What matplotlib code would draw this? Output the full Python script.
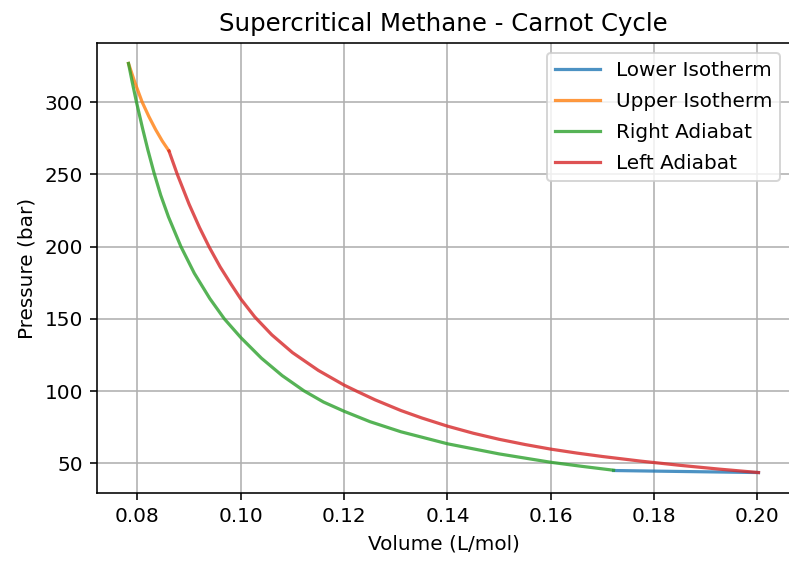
import matplotlib
matplotlib.use("Agg")
import matplotlib.pyplot as plt

# Lower isotherm
lower_v = [0.17215, 0.1860, 0.2002]
lower_p = [45.0, 44.3, 43.6]

# Upper isotherm
upper_v = [0.07826, 0.0795, 0.0809, 0.0822, 0.0835, 0.0848, 0.0861]
upper_p = [326.7, 313.5, 300.0, 290.0, 281.0, 273.0, 266.1]

# Right adiabat
right_v = [0.07826, 0.0790, 0.0798, 0.0810, 0.0820, 0.0832, 0.0845, 0.0860,
           0.0884, 0.0910, 0.0940, 0.0968, 0.1000, 0.1040, 0.1080, 0.1122,
           0.1160, 0.1200, 0.1250, 0.1310, 0.1400, 0.1500, 0.1600, 0.1660,
           0.17215]
right_p = [326.7, 313.5, 300.0, 281.5, 267.0, 251.0, 235.5, 220.5,
           200.0, 181.5, 164.0, 150.0, 137.0, 122.7, 110.7, 100.2,
           92.4, 86.0, 78.8, 71.8, 63.5, 56.5, 50.7, 47.9,
           45.2]

# Left adiabat
left_v = [0.0861, 0.0877, 0.0900, 0.0920, 0.0939, 0.0960, 0.0981, 0.1000,
          0.1027, 0.1060, 0.1100, 0.1150, 0.1200, 0.1226, 0.1260, 0.1310,
          0.1350, 0.1400, 0.1450, 0.1500, 0.1550, 0.1600, 0.1650, 0.1700,
          0.1774, 0.1850, 0.1925, 0.2002]
left_p = [266.1, 250.0, 229.2, 213.2, 199.5, 185.9, 174.0, 163.7,
          151.3, 138.9, 126.6, 114.3, 104.1, 99.6, 93.9, 86.5,
          81.4, 75.7, 70.8, 66.6, 63.0, 59.8, 57.1, 54.7,
          51.5, 48.6, 46.0, 43.6]

W, H, DPI = 789, 561, 144
fig = plt.figure(figsize=(W / DPI, H / DPI), dpi=DPI)
ax = fig.add_axes([97 / W, (H - 493) / H, (790 - 97) / W, (493 - 43) / H])

alpha = 0.8
ax.plot(lower_v, lower_p, color="#1f77b4", alpha=alpha, lw=1.6, label="Lower Isotherm")
ax.plot(upper_v, upper_p, color="#ff7f0e", alpha=alpha, lw=1.6, label="Upper Isotherm")
ax.plot(right_v, right_p, color="#2ca02c", alpha=alpha, lw=1.6, label="Right Adiabat")
ax.plot(left_v, left_p, color="#d62728", alpha=alpha, lw=1.6, label="Left Adiabat")

ax.set_title("Supercritical Methane - Carnot Cycle", fontsize=12.2)
ax.set_xlabel("Volume (L/mol)")
ax.set_ylabel("Pressure (bar)")
ax.set_xticks([0.08, 0.10, 0.12, 0.14, 0.16, 0.18, 0.20])
ax.set_yticks([50, 100, 150, 200, 250, 300])
ax.grid(True)
ax.legend(loc="upper right", labelspacing=0.6, handlelength=2.25)

fig.savefig("out.png", dpi=DPI)
